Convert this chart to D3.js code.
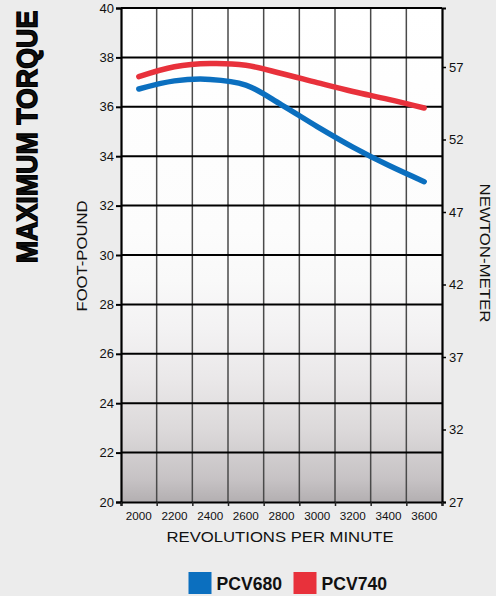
<!DOCTYPE html>
<html>
<head>
<meta charset="utf-8">
<script src="https://cdn.jsdelivr.net/npm/d3@7"></script>
<style>
  html, body { margin: 0; padding: 0; background: #ececec; }
  svg { display: block; }
  text { font-family: "Liberation Sans", Arial, Helvetica, sans-serif; fill: #111; }
</style>
</head>
<body>
<svg id="chart" width="496" height="596"></svg>
<script>
// ---- data ----
const rpm = [2000, 2200, 2400, 2600, 2800, 3000, 3200, 3400, 3600];
const pcv680 = [36.72, 37.05, 37.11, 36.88, 36.08, 35.2, 34.37, 33.63, 32.97];
const pcv740 = [37.22, 37.62, 37.75, 37.68, 37.35, 36.98, 36.62, 36.3, 35.95];
const seriesNames = ["PCV680", "PCV740"];
const seriesColors = ["#0b6fbf", "#e8313b"];
const leftTicks = [20, 22, 24, 26, 28, 30, 32, 34, 36, 38, 40];
const rightTicks = [27, 32, 37, 42, 47, 52, 57];
const xLabels = [2000, 2200, 2400, 2600, 2800, 3000, 3200, 3400, 3600];
const xBounds = [1900, 2100, 2300, 2500, 2700, 2900, 3100, 3300, 3500, 3700];

const svg = d3.select("#chart");
const L = 121, R = 442, T = 8, B = 502;

const x = d3.scaleLinear().domain([1900, 3700]).range([L, R]);
const y = d3.scaleLinear().domain([20, 40]).range([B, T]);
const yR = d3.scaleLinear().domain([27, 27 + (B - T) / 14.5]).range([B, T]);

// gradient background
const defs = svg.append("defs");
const grad = defs.append("linearGradient").attr("id", "bg")
  .attr("x1", 0).attr("y1", 0).attr("x2", 0).attr("y2", 1);
[[0, "#ffffff"], [0.45, "#fcfcfc"], [0.55, "#f9f9f9"], [0.65, "#f3f2f3"],
 [0.75, "#eae8e9"], [0.854, "#dcd9da"], [0.955, "#c6c2c4"], [1, "#b3afb1"]]
  .forEach(([o, c]) => grad.append("stop").attr("offset", o).attr("stop-color", c));

svg.append("rect").attr("x", L).attr("y", T).attr("width", R - L).attr("height", B - T)
  .attr("fill", "url(#bg)");

// vertical grid
svg.append("g").selectAll("line").data(xBounds.slice(1, -1)).join("line")
  .attr("x1", d => x(d)).attr("x2", d => x(d)).attr("y1", T).attr("y2", B)
  .attr("stroke", "#4a4a4a").attr("stroke-width", 1.5);

// horizontal grid
svg.append("g").selectAll("line").data(leftTicks.slice(1, -1)).join("line")
  .attr("x1", L).attr("x2", R).attr("y1", d => y(d)).attr("y2", d => y(d))
  .attr("stroke", "#000").attr("stroke-width", 2);

// left axis
const leftAxis = d3.axisLeft(y).tickValues(leftTicks).tickSize(5).tickPadding(2).tickFormat(d3.format("d"));
const gl = svg.append("g").attr("transform", `translate(${L},0)`).call(leftAxis);
gl.select(".domain").attr("stroke", "#000").attr("stroke-width", 2.2);
gl.selectAll(".tick line").attr("stroke", "#000").attr("stroke-width", 2);
gl.selectAll(".tick text").attr("font-size", 13).attr("fill", "#111")
  .attr("font-family", "Liberation Sans, Arial, sans-serif");

// right axis
const rightAxis = d3.axisRight(yR).tickValues(rightTicks).tickSize(4).tickPadding(3).tickFormat(d3.format("d"));
const gr = svg.append("g").attr("transform", `translate(${R},0)`).call(rightAxis);
gr.select(".domain").attr("stroke", "#000").attr("stroke-width", 2.2);
gr.selectAll(".tick line").attr("stroke", "#000").attr("stroke-width", 1.5);
gr.selectAll(".tick text").attr("font-size", 13).attr("fill", "#111")
  .attr("font-family", "Liberation Sans, Arial, sans-serif");

// top border
svg.append("line").attr("x1", L).attr("x2", R).attr("y1", T).attr("y2", T)
  .attr("stroke", "#000").attr("stroke-width", 2.2);

// bottom axis (tick marks at column boundaries)
const bottomAxis = d3.axisBottom(x).tickValues(xBounds).tickSize(4).tickFormat("");
const gb = svg.append("g").attr("transform", `translate(0,${B})`).call(bottomAxis);
gb.select(".domain").attr("stroke", "#000").attr("stroke-width", 2.2);
gb.selectAll(".tick line").attr("stroke", "#222").attr("stroke-width", 1.5);

// x labels centered in columns
svg.append("g").selectAll("text").data(xLabels).join("text")
  .attr("x", d => x(d)).attr("y", 520).attr("text-anchor", "middle")
  .attr("font-size", 11.7).text(d => d);

// lines
const line = d3.line().x((d, i) => x(rpm[i])).y(d => y(d)).curve(d3.curveCatmullRom.alpha(0.5));
[pcv680, pcv740].forEach((s, k) => {
  svg.append("path").datum(s).attr("d", line).attr("fill", "none")
    .attr("stroke", seriesColors[k]).attr("stroke-width", 5.5)
    .attr("stroke-linecap", "round").attr("stroke-linejoin", "round");
});

// axis titles
svg.append("text").attr("x", 280).attr("y", 541.5).attr("text-anchor", "middle")
  .attr("font-size", 15.5).attr("textLength", 227).attr("lengthAdjust", "spacingAndGlyphs")
  .text("REVOLUTIONS PER MINUTE");

svg.append("text").attr("transform", "translate(87,256) rotate(-90)").attr("text-anchor", "middle")
  .attr("font-size", 15).attr("textLength", 111).attr("lengthAdjust", "spacingAndGlyphs")
  .text("FOOT-POUND");

svg.append("text").attr("transform", "translate(480,253) rotate(90)").attr("text-anchor", "middle")
  .attr("font-size", 15).attr("textLength", 139).attr("lengthAdjust", "spacingAndGlyphs")
  .text("NEWTON-METER");

svg.append("text").attr("transform", "translate(37,137) rotate(-90) scale(1,1.12)").attr("text-anchor", "middle")
  .attr("font-size", 26.8).attr("font-weight", 900).attr("stroke", "#000").attr("stroke-width", 1.3)
  .attr("fill", "#000")
  .text("MAXIMUM TORQUE");

// legend
const legendX = [188.5, 293.5];
seriesNames.forEach((n, k) => {
  svg.append("rect").attr("x", legendX[k]).attr("y", 572).attr("width", 23).attr("height", 22)
    .attr("fill", seriesColors[k]);
  svg.append("text").attr("x", legendX[k] + 28).attr("y", 590)
    .attr("font-size", 17.6).attr("font-weight", "bold").attr("fill", "#111")
    .text(n);
});
</script>
</body>
</html>
